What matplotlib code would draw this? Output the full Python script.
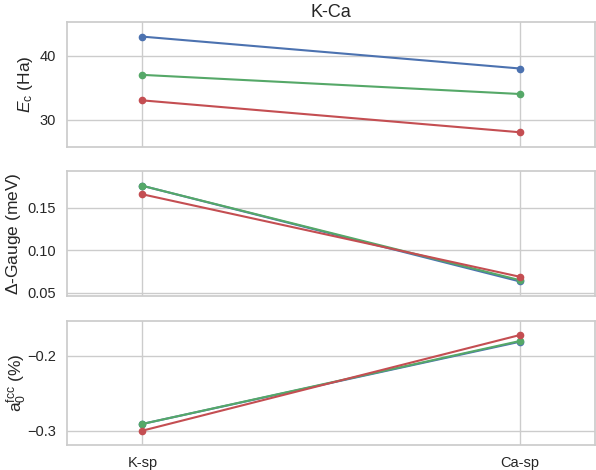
import matplotlib
matplotlib.use("Agg")
import matplotlib.pyplot as plt
import seaborn as sns
from matplotlib.ticker import MultipleLocator, FormatStrFormatter

sns.set_theme(style="whitegrid")
plt.rcParams['font.family'] = ['Liberation Sans', 'DejaVu Sans']
plt.rcParams['mathtext.fontset'] = 'custom'
plt.rcParams['mathtext.rm'] = 'Liberation Sans'
plt.rcParams['mathtext.it'] = 'Liberation Sans:italic'

systems = ['K-sp', 'Ca-sp']
colors = ['#4C72B0', '#55A868', '#C44E52']

# cohesive energy (Ha)
ec = [[43.0, 38.0], [37.0, 34.0], [33.0, 28.0]]
# gauge difference (meV)
gauge = [[0.176, 0.0635], [0.176, 0.065], [0.166, 0.069]]
# lattice constant deviation (%)
a0 = [[-0.291, -0.181], [-0.291, -0.180], [-0.300, -0.172]]

fig, axes = plt.subplots(3, 1, figsize=(5.96, 4.70), dpi=100, sharex=True)
fig.subplots_adjust(left=0.1124, right=0.999, top=0.9526, bottom=0.0532, hspace=0.2)

panels = [
    (ec, r'$E_{\rm c}$ (Ha)', 10, 3),
    (gauge, r'$\Delta$-Gauge (meV)', 0.05, 3),
    (a0, r'a$_0^{\rm fcc}$ (%)', 0.1, -1.5),
]
x = range(len(systems))
for ax, (data, label, step, pad) in zip(axes, panels):
    for vals, c in zip(data, colors):
        ax.plot(x, vals, '-o', color=c, lw=1.5, ms=4.5)
    ax.margins(x=0.2, y=0.15)
    ax.yaxis.set_major_locator(MultipleLocator(step))
    ax.set_ylabel(label, fontsize=12.5, labelpad=pad)
    ax.tick_params(labelsize=10.5, pad=2)
    for s in ax.spines.values():
        s.set_color('#cccccc')
        s.set_linewidth(1.25)

axes[1].yaxis.set_major_formatter(FormatStrFormatter('%.2f'))
axes[2].set_xticks(list(x))
axes[2].set_xticklabels(systems)
axes[0].set_title('K-Ca', fontsize=13, pad=4)

fig.savefig('out.png', dpi=100)
